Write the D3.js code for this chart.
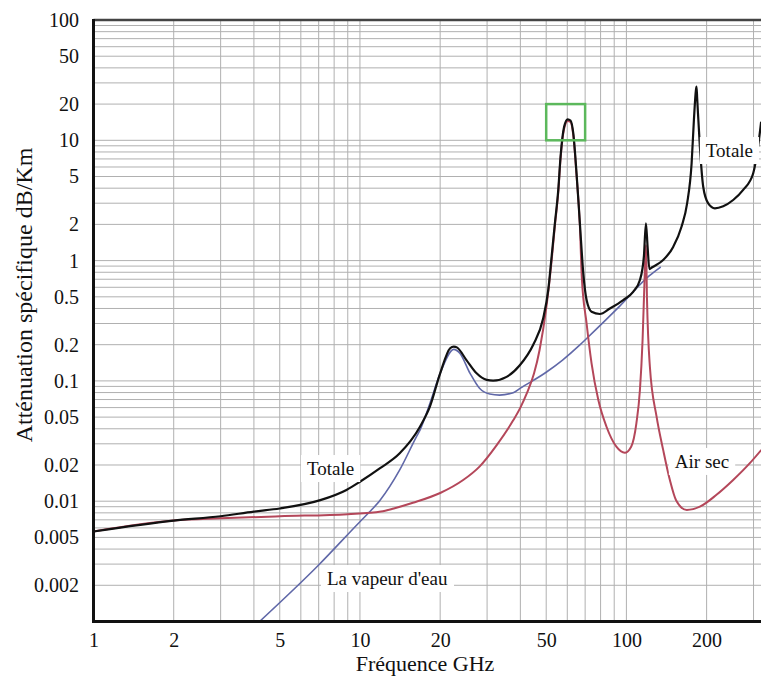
<!DOCTYPE html>
<html>
<head>
<meta charset="utf-8">
<script src="https://cdn.jsdelivr.net/npm/d3@7"></script>
<style>
  body { margin: 0; background: #fff; }
  svg { display: block; }
  text { font-family: "Liberation Serif", "Times New Roman", serif; fill: #111; }
</style>
</head>
<body>
<svg id="chart" width="761" height="676"></svg>
<script>
// Axis tick labels
const freqTicks = [1, 2, 5, 10, 20, 50, 100, 200];
const attTicks = [100, 50, 20, 10, 5, 2, 1, 0.5, 0.2, 0.1, 0.05, 0.02, 0.01, 0.005, 0.002];

// Total attenuation (GHz, dB/km)
const totaleFreq = [1, 2, 3, 4, 5, 7.1, 8.9, 10, 11.9, 14.1, 16.8, 18.3, 20, 21.8, 22.5, 23.1, 25.1, 27.4, 29.9, 31.6, 35.5, 39.8, 44.7, 48.7, 50.9, 52.4, 53.9, 55.5, 56.6, 58.4, 60.2, 61.7, 63.2, 65, 66.9, 68.9, 70.9, 74, 79.5, 86.7, 97.3, 106, 112.4, 116.3, 118.4, 120.1, 122, 125, 137.4, 149.8, 161, 169, 175.7, 179.2, 182.3, 183.3, 184.4, 188.7, 194.2, 202.8, 214.8, 230.8, 251.6, 274.3, 299, 312, 320];
const totaleAtt  = [0.0056, 0.0069, 0.0075, 0.0082, 0.0087, 0.0102, 0.0124, 0.0145, 0.0188, 0.025, 0.0416, 0.061, 0.1156, 0.187, 0.193, 0.19, 0.149, 0.1156, 0.102, 0.1005, 0.108, 0.135, 0.2, 0.33, 0.57, 1.08, 2.04, 3.87, 7.3, 13.0, 14.95, 14.6, 11.4, 5.3, 2.04, 0.784, 0.47, 0.376, 0.36, 0.40, 0.47, 0.55, 0.69, 1.08, 2.04, 1.3, 0.85, 0.88, 1.01, 1.3, 1.91, 2.99, 6.44, 14.75, 26, 28, 22, 8.85, 4.11, 2.99, 2.72, 2.83, 3.19, 3.87, 5.3, 8.85, 14];

// Dry air (oxygen) attenuation
const airFreq = [1, 2, 3, 5, 9, 12, 13.4, 15.8, 20, 24.4, 28.1, 32.5, 37.6, 40, 42.2, 45, 47.2, 50, 52.4, 53.9, 55.5, 56.6, 58.4, 60.2, 61.7, 63.2, 65, 66.9, 68, 70.9, 74, 78.5, 84.2, 91.7, 98.6, 104.2, 109, 112.4, 115, 117.2, 118.4, 119.5, 122.5, 129.8, 137.4, 145.6, 153.6, 168.5, 188.7, 217.8, 251.6, 290, 320];
const airAtt  = [0.0056, 0.0069, 0.0072, 0.0075, 0.0078, 0.0082, 0.0087, 0.0097, 0.0117, 0.015, 0.0194, 0.029, 0.047, 0.06, 0.078, 0.115, 0.18, 0.4, 1.0, 1.95, 3.7, 7.0, 12.5, 14.5, 14.2, 11, 5.1, 1.95, 0.735, 0.30, 0.14, 0.069, 0.0416, 0.0284, 0.0253, 0.0284, 0.0444, 0.084, 0.219, 0.784, 1.35, 0.47, 0.131, 0.0504, 0.0267, 0.015, 0.0102, 0.00845, 0.009, 0.0113, 0.015, 0.0206, 0.0265];

// Water vapour attenuation
const vapeurFreq = [4.2, 7.0, 10, 10.9, 11.9, 14.1, 16.3, 16.8, 18.3, 20, 22.5, 23.7, 25.9, 28.1, 30.7, 33.4, 37.6, 40, 50, 57.6, 66.9, 70.9, 94.6, 122, 134];
const vapeurAtt  = [0.001, 0.00295, 0.00675, 0.0082, 0.0102, 0.0182, 0.0344, 0.039, 0.065, 0.1156, 0.183, 0.17, 0.1156, 0.0868, 0.0778, 0.0762, 0.0798, 0.087, 0.118, 0.149, 0.199, 0.225, 0.42, 0.75, 0.88];

// Highlighted region around the 60 GHz oxygen band
const boxFreq = [50, 70];
const boxAtt = [10, 20];

const svg = d3.select("#chart");
const plotLeft = 93.5, plotRight = 761, plotTop = 20, plotBottom = 621.5;

const x = d3.scaleLog().domain([1, 320]).range([plotLeft, plotRight]);
const y = d3.scaleLog().domain([0.001, 100]).range([plotBottom, plotTop]);

// Grid
const grid = svg.append("g").attr("stroke", "#b0b0b0").attr("stroke-width", 1);
grid.selectAll("line.v").data(x.ticks()).join("line")
  .attr("class", "v")
  .attr("x1", d => x(d)).attr("x2", d => x(d))
  .attr("y1", plotTop).attr("y2", plotBottom);
grid.selectAll("line.h").data(y.ticks()).join("line")
  .attr("class", "h")
  .attr("x1", plotLeft).attr("x2", plotRight)
  .attr("y1", d => y(d)).attr("y2", d => y(d));

// Curves
svg.append("defs").append("clipPath").attr("id", "plot")
  .append("rect").attr("x", plotLeft).attr("y", plotTop)
  .attr("width", plotRight - plotLeft).attr("height", plotBottom - plotTop);

const line = d3.line().x(d => x(d[0])).y(d => y(d[1])).curve(d3.curveMonotoneX);
const curves = svg.append("g").attr("clip-path", "url(#plot)").attr("fill", "none")
  .attr("stroke-linejoin", "round").attr("stroke-linecap", "round");

curves.append("path").datum(d3.zip(vapeurFreq, vapeurAtt))
  .attr("d", line).attr("stroke", "#6068a8").attr("stroke-width", 1.6);
curves.append("path").datum(d3.zip(airFreq, airAtt))
  .attr("d", line).attr("stroke", "#b4475a").attr("stroke-width", 2);
curves.append("path").datum(d3.zip(totaleFreq, totaleAtt))
  .attr("d", line).attr("stroke", "#111").attr("stroke-width", 2.2);

// Highlight box
svg.append("rect")
  .attr("x", x(boxFreq[0])).attr("y", y(boxAtt[1]))
  .attr("width", x(boxFreq[1]) - x(boxFreq[0]))
  .attr("height", y(boxAtt[0]) - y(boxAtt[1]))
  .attr("fill", "none").attr("stroke", "#5cb85c").attr("stroke-width", 2.5);

// Curve labels on white boxes
const labels = [
  { text: "Totale", f: 6.33, a: 0.0165 },
  { text: "La vapeur d'eau", f: 7.52, a: 0.00201 },
  { text: "Air sec", f: 152, a: 0.0189 },
  { text: "Totale", f: 198.7, a: 7.26 }
];
const lab = svg.append("g");
labels.forEach(l => {
  const g = lab.append("g");
  const r = g.append("rect").attr("fill", "#fff");
  const t = g.append("text").attr("x", x(l.f)).attr("y", y(l.a))
    .attr("font-size", 19).text(l.text);
  const b = t.node().getBBox();
  r.attr("x", b.x - 6).attr("y", b.y - 3).attr("width", b.width + 12).attr("height", b.height + 6);
});

// Frame
svg.append("line").attr("x1", plotLeft).attr("x2", plotRight).attr("y1", plotTop).attr("y2", plotTop)
  .attr("stroke", "#444").attr("stroke-width", 2.5);
svg.append("line").attr("x1", plotLeft).attr("x2", plotLeft).attr("y1", plotTop - 1).attr("y2", plotBottom + 1.5)
  .attr("stroke", "#111").attr("stroke-width", 3);
svg.append("line").attr("x1", plotLeft - 1.5).attr("x2", plotRight).attr("y1", plotBottom).attr("y2", plotBottom)
  .attr("stroke", "#111").attr("stroke-width", 3);

// Axes
const fmt = d3.format("~g");
const xAxis = svg.append("g").attr("transform", `translate(0,${plotBottom})`)
  .call(d3.axisBottom(x).tickValues(freqTicks).tickFormat(fmt).tickSize(0).tickPadding(11));
const yAxis = svg.append("g").attr("transform", `translate(${plotLeft},0)`)
  .call(d3.axisLeft(y).tickValues(attTicks).tickFormat(fmt).tickSize(0).tickPadding(14.5));
[xAxis, yAxis].forEach(a => {
  a.select(".domain").remove();
  a.selectAll("text").attr("font-size", 20)
    .attr("font-family", "'Liberation Serif', serif").attr("fill", "#111");
});

// Axis titles
svg.append("text").attr("x", 425).attr("y", 671).attr("text-anchor", "middle")
  .attr("font-size", 22).text("Fréquence GHz");
svg.append("text").attr("transform", "translate(32,295) rotate(-90)")
  .attr("text-anchor", "middle").attr("font-size", 24).text("Atténuation spécifique dB/Km");
</script>
</body>
</html>
